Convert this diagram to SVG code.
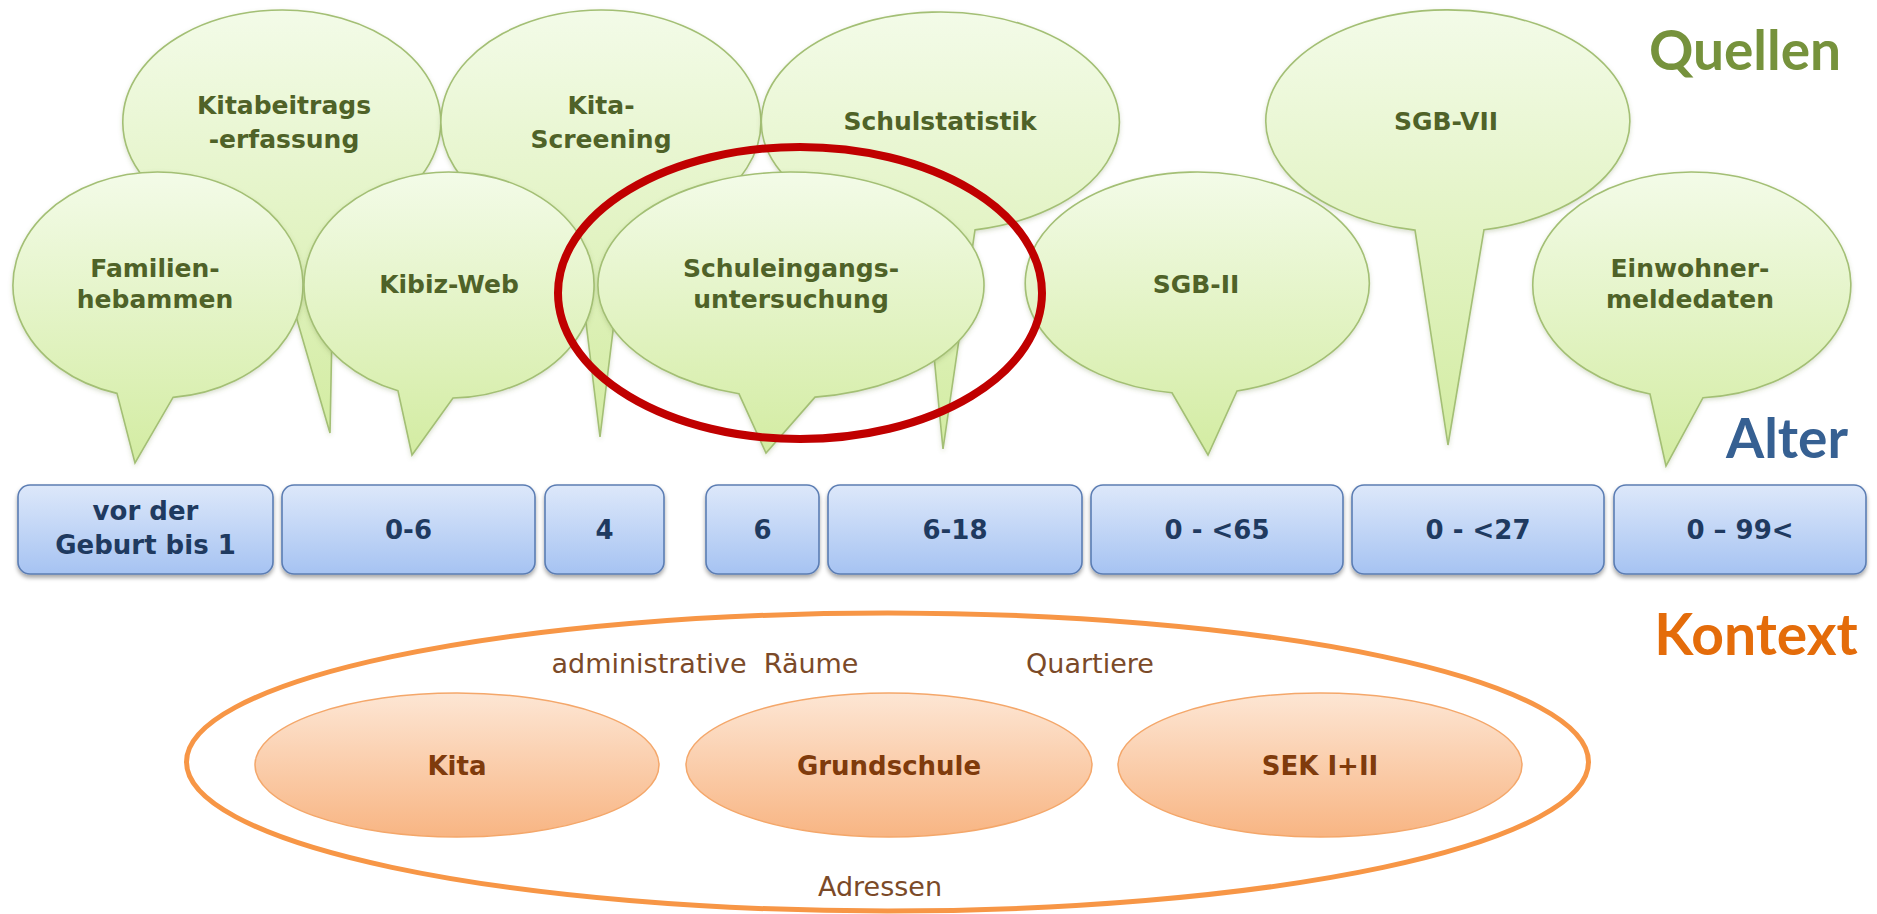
<svg xmlns="http://www.w3.org/2000/svg" width="1877" height="914" viewBox="0 0 1877 914">
<defs>
<linearGradient id="gGreen" x1="0" y1="0" x2="0" y2="1">
<stop offset="0" stop-color="#f3fbe8"/>
<stop offset="1" stop-color="#d3eca2"/>
</linearGradient>
<linearGradient id="gBlue" x1="0" y1="0" x2="0" y2="1">
<stop offset="0" stop-color="#dde8fa"/>
<stop offset="1" stop-color="#a6c3f2"/>
</linearGradient>
<linearGradient id="gOrange" x1="0" y1="0" x2="0" y2="1">
<stop offset="0" stop-color="#fde6d4"/>
<stop offset="1" stop-color="#f8b583"/>
</linearGradient>
<filter id="shadow" x="-10%" y="-10%" width="120%" height="140%">
<feDropShadow dx="0" dy="3" stdDeviation="2" flood-color="#000" flood-opacity="0.35"/>
</filter>
<filter id="soft" x="-10%" y="-10%" width="120%" height="130%">
<feDropShadow dx="0" dy="2" stdDeviation="2" flood-color="#6a7f40" flood-opacity="0.25"/>
</filter>
</defs>
<style>
.bub{fill:url(#gGreen);stroke:#a3bf74;stroke-width:1.6;filter:url(#soft)}
.bt{font-family:"DejaVu Sans",Verdana,sans-serif;font-weight:bold;font-size:25px;fill:#4f6228;text-anchor:middle}
.age{fill:url(#gBlue);stroke:#5b7db3;stroke-width:1.6;filter:url(#shadow)}
.at{font-family:"DejaVu Sans",Verdana,sans-serif;font-weight:bold;font-size:26px;fill:#1f3a60;text-anchor:middle}
.ctx{fill:url(#gOrange);stroke:#f4a76a;stroke-width:1.5}
.ct{font-family:"DejaVu Sans",Verdana,sans-serif;font-weight:bold;font-size:26px;fill:#7f3b0c;text-anchor:middle}
.cl{font-family:"DejaVu Sans",Verdana,sans-serif;font-size:27px;fill:#7b4a28;text-anchor:middle}
.hd{font-family:Lato,"Open Sans",sans-serif;font-weight:bold;font-size:55px;text-anchor:middle}
</style>
<rect width="1877" height="914" fill="#ffffff"/>

<!-- Back row bubbles -->
<g id="bubble-kitabeitrags">
<path class="bub" d="M334,227.8 A159,112 0 1 0 272,233.8 L330,433 Z"/>
<text class="bt" x="284" y="114">Kitabeitrags</text>
<text class="bt" x="284" y="148">-erfassung</text>
</g>
<g id="bubble-kitascreening">
<path class="bub" d="M625,232.7 A160,112 0 1 0 575,232.5 L600,437 Z"/>
<text class="bt" x="601" y="114">Kita-</text>
<text class="bt" x="601" y="148">Screening</text>
</g>
<g id="bubble-schulstatistik">
<path class="bub" d="M975,229.9 A179,110 0 1 0 922,231.4 L943,449 Z"/>
<text class="bt" x="940" y="130">Schulstatistik</text>
</g>
<g id="bubble-sgb7">
<path class="bub" d="M1484,229.7 A182,111 0 1 0 1415,230.1 L1448,445 Z"/>
<text class="bt" x="1446" y="130">SGB-VII</text>
</g>

<!-- Front row bubbles -->
<g id="bubble-familienhebammen">
<path class="bub" d="M173,397.4 A145,113 0 1 0 117,393.4 L135,463 Z"/>
<text class="bt" x="155" y="277">Familien-</text>
<text class="bt" x="155" y="308">hebammen</text>
</g>
<g id="bubble-kibizweb">
<path class="bub" d="M453,398 A145,113 0 1 0 398,390.8 L412,455 Z"/>
<text class="bt" x="449" y="293">Kibiz-Web</text>
</g>
<g id="bubble-schuleingang">
<path class="bub" d="M815,397.1 A193,113 0 1 0 739,393.8 L766,453 Z"/>
<text class="bt" x="791" y="277">Schuleingangs-</text>
<text class="bt" x="791" y="308">untersuchung</text>
</g>
<g id="bubble-sgb2">
<path class="bub" d="M1237,391 A172,111 0 1 0 1172,392.8 L1208,455 Z"/>
<text class="bt" x="1196" y="293">SGB-II</text>
</g>
<g id="bubble-einwohner">
<path class="bub" d="M1703,397.7 A159,113 0 1 0 1650,394 L1666,466 Z"/>
<text class="bt" x="1690" y="277">Einwohner-</text>
<text class="bt" x="1690" y="308">meldedaten</text>
</g>

<!-- highlight -->
<g id="highlight">
<ellipse cx="800" cy="293" rx="242" ry="146" fill="none" stroke="#c00000" stroke-width="8"/>
</g>

<!-- Headings -->
<g id="headings">
<text class="hd" x="1745" y="70" fill="#76923c">Quellen</text>
<text class="hd" x="1787" y="458" fill="#366092">Alter</text>
<text class="hd" x="1756" y="655" fill="#e46c0a" style="font-size:57px">Kontext</text>
</g>

<!-- Age boxes -->
<g id="age-vorgeburt">
<rect class="age" x="18" y="485" width="255" height="89" rx="12"/>
<text class="at" x="145.5" y="520">vor der</text>
<text class="at" x="145.5" y="554">Geburt bis 1</text>
</g>
<g id="age-0-6">
<rect class="age" x="282" y="485" width="253" height="89" rx="12"/>
<text class="at" x="408.5" y="539">0-6</text>
</g>
<g id="age-4">
<rect class="age" x="545" y="485" width="119" height="89" rx="12"/>
<text class="at" x="604.5" y="539">4</text>
</g>
<g id="age-6">
<rect class="age" x="706" y="485" width="113" height="89" rx="12"/>
<text class="at" x="762.5" y="539">6</text>
</g>
<g id="age-6-18">
<rect class="age" x="828" y="485" width="254" height="89" rx="12"/>
<text class="at" x="955" y="539">6-18</text>
</g>
<g id="age-0-65">
<rect class="age" x="1091" y="485" width="252" height="89" rx="12"/>
<text class="at" x="1217" y="539">0 - &lt;65</text>
</g>
<g id="age-0-27">
<rect class="age" x="1352" y="485" width="252" height="89" rx="12"/>
<text class="at" x="1478" y="539">0 - &lt;27</text>
</g>
<g id="age-0-99">
<rect class="age" x="1614" y="485" width="252" height="89" rx="12"/>
<text class="at" x="1740" y="539">0 – 99&lt;</text>
</g>

<!-- Context -->
<g id="context-outer">
<ellipse cx="887.5" cy="762" rx="701" ry="149" fill="none" stroke="#f79646" stroke-width="5"/>
<text class="cl" x="705" y="673" xml:space="preserve">administrative  Räume</text>
<text class="cl" x="1090" y="673">Quartiere</text>
<text class="cl" x="880" y="896">Adressen</text>
</g>
<g id="context-kita">
<ellipse class="ctx" cx="457" cy="765" rx="202" ry="72"/>
<text class="ct" x="457" y="775">Kita</text>
</g>
<g id="context-grundschule">
<ellipse class="ctx" cx="889" cy="765" rx="203" ry="72"/>
<text class="ct" x="889" y="775">Grundschule</text>
</g>
<g id="context-sek">
<ellipse class="ctx" cx="1320" cy="765" rx="202" ry="72"/>
<text class="ct" x="1320" y="775">SEK I+II</text>
</g>
<g id="connectors"></g>
</svg>
